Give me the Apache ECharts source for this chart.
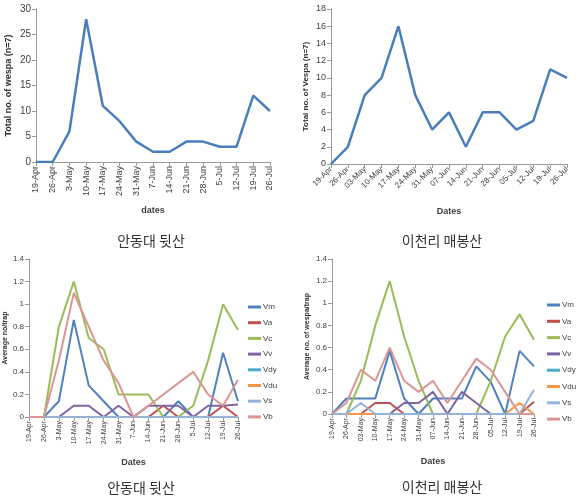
<!DOCTYPE html>
<html>
<head>
<meta charset="utf-8">
<script src="https://cdn.jsdelivr.net/npm/echarts@6/dist/echarts.min.js"></script>
<style>html,body{margin:0;padding:0;background:#fff}#c{width:584px;height:498px}</style>
</head>
<body>
<div id="c"></div>
<script>
// ---- data ----
const datesA = ['19-Apr','26-Apr','3-May','10-May','17-May','24-May','31-May','7-Jun','14-Jun','21-Jun','28-Jun','5-Jul','12-Jul','19-Jul','26-Jul'];
const datesB = ['19-Apr','26-Apr','03-May','10-May','17-May','24-May','31-May','07-Jun','14-Jun','21-Jun','28-Jun','05-Jul','12-Jul','19-Jul','26-Jul'];
const totalA = [0,0,6,28,11,8,4,2,2,4,4,3,3,13,10];
const totalB = [0,2,8,10,16,8,4,6,2,6,6,4,5,11,10];
const speciesNames = ['Vm','Va','Vc','Vv','Vdy','Vdu','Vs','Vb'];
// Andong (bottom-left)
const andVm  = [0,0,0.14,0.86,0.28,0.14,0,0,0,0,0.14,0,0,0.57,0.14];
const andVa  = [0,0,0,0,0,0,0,0,0,0.1,0,0,0,0.1,0];
const andVc  = [0,0,0.8,1.2,0.7,0.6,0.2,0.2,0.2,0,0,0.1,0.5,1.0,0.77];
const andVv  = [0,0,0,0.1,0.1,0,0.1,0,0.1,0.1,0.1,0,0.1,0.1,0.11];
const andVdy = [0,0,0,0,0,0,0,0,0,0,0,0,0,0,0];
const andVdu = [0,0,0,0,0,0,0,0,0,0,0,0,0,0,0];
const andVs  = [0,0,0,0,0,0,0,0,0,0,0,0,0,0,0];
const andVb  = [0,0,0.5,1.1,0.8,0.5,0.3,0,0.1,0.2,0.3,0.4,0.2,0.1,0.33];
// Icheon (bottom-right)
const iceVm  = [0,0.14,0.14,0.14,0.57,0.14,0,0.14,0.14,0.14,0.43,0.29,0,0.57,0.43];
const iceVa  = [0,0,0,0.1,0.1,0,0,0,0,0,0,0,0,0,0.11];
const iceVc  = [0,0,0.3,0.8,1.2,0.7,0.3,0,0,0,0,0.3,0.7,0.9,0.67];
const iceVv  = [0,0,0,0,0,0.1,0.1,0.2,0,0.2,0.1,0,0,0,0];
const iceVdy = [0,0,0,0,0,0,0,0,0,0,0,0,0,0,0];
const iceVdu = [0,0,0,0,0,0,0,0,0,0,0,0,0,0.1,0];
const iceVs  = [0,0,0.1,0,0,0,0,0,0,0,0,0,0,0,0.22];
const iceVb  = [0,0.1,0.4,0.3,0.6,0.3,0.2,0.3,0.1,0.3,0.5,0.4,0.2,0,0];
const colors = ['#4F81BD','#C0504D','#9BBB59','#8064A2','#4BACC6','#F79646','#95B3D7','#D99694'];
const captions = ['안동대 뒷산','이천리 매봉산'];

const andData = [andVm,andVa,andVc,andVv,andVdy,andVdu,andVs,andVb];
const iceData = [iceVm,iceVa,iceVc,iceVv,iceVdy,iceVdu,iceVs,iceVb];

const axisLine = {lineStyle:{color:'#9a9a9a',width:1}};
const tick = {show:true,length:4,lineStyle:{color:'#9a9a9a'}};
const fontF = 'Arial, "Liberation Sans", sans-serif';

function xAx(grid, data, rotate, fs, name, gap){
  return {type:'category',gridIndex:grid,data:data,boundaryGap:false,
    axisLine:axisLine,axisTick:Object.assign({alignWithLabel:true},tick),
    axisLabel:{rotate:rotate,fontSize:fs,color:'#404040',fontFamily:fontF,margin:4,interval:0},
    name:name,nameLocation:'middle',nameGap:gap,
    nameTextStyle:{fontSize:9,fontWeight:'bold',color:'#404040',fontFamily:fontF}};
}
function yAx(grid, max, interval, fs, name, gap, nfs){
  return {type:'value',gridIndex:grid,min:0,max:max,interval:interval,
    axisLine:Object.assign({show:true},axisLine),axisTick:tick,splitLine:{show:false},
    axisLabel:{fontSize:fs,color:'#404040',fontFamily:fontF,margin:5},
    name:name,nameLocation:'middle',nameGap:gap,
    nameTextStyle:{fontSize:nfs,fontWeight:'bold',color:'#303030',fontFamily:fontF}};
}

const series = [
  {type:'line',xAxisIndex:0,yAxisIndex:0,data:totalA,showSymbol:false,lineStyle:{color:'#4A7EBB',width:2.5},itemStyle:{color:'#4A7EBB'}},
  {type:'line',xAxisIndex:1,yAxisIndex:1,data:totalB,showSymbol:false,lineStyle:{color:'#4A7EBB',width:2.5},itemStyle:{color:'#4A7EBB'}}
];
speciesNames.forEach((n,i)=>{
  series.push({name:n,type:'line',xAxisIndex:2,yAxisIndex:2,data:andData[i],showSymbol:false,
    lineStyle:{color:colors[i],width:2},itemStyle:{color:colors[i]}});
});
speciesNames.forEach((n,i)=>{
  series.push({name:n,type:'line',xAxisIndex:3,yAxisIndex:3,data:iceData[i],showSymbol:false,
    lineStyle:{color:colors[i],width:2},itemStyle:{color:colors[i]}});
});

const legendBase = {orient:'vertical',data:speciesNames,icon:'rect',itemWidth:13,itemHeight:3,
  textStyle:{fontSize:8,color:'#404040',fontFamily:fontF,padding:[0,0,0,-3]},selectedMode:false,padding:0};

const chart = echarts.init(document.getElementById('c'),null,{renderer:'canvas'});
chart.setOption({
  animation:false,
  backgroundColor:'#ffffff',
  color:colors,
  grid:[
    {left:36,top:9,width:234,height:153},
    {left:331,top:9,width:236,height:155},
    {left:29,top:259,width:209,height:158},
    {left:332,top:259,width:202,height:155}
  ],
  xAxis:[
    xAx(0,datesA,90,9,'dates',44),
    xAx(1,datesB,45,8,'Dates',43),
    xAx(2,datesA,90,7,'Dates',41),
    xAx(3,datesB,90,7,'Dates',43)
  ],
  yAxis:[
    yAx(0,30,5,10,'Total no. of wespa (n=7)',23,9),
    yAx(1,18,2,9,'Total no. of Vespa (n=7)',21,8),
    yAx(2,1.4,0.2,8,'Average no/trap',20,7),
    yAx(3,1.4,0.2,8,'Average no. of wespa/trap',21,7)
  ],
  legend:[
    Object.assign({left:248,top:303,itemGap:7.7},legendBase),
    Object.assign({left:547,top:301,itemGap:8.3},legendBase)
  ],
  title:[
    {text:captions[0],left:146,top:229,textAlign:'center',textStyle:{fontSize:14,fontWeight:'normal',color:'#333',fontFamily:'"Noto Sans CJK KR"'}},
    {text:captions[1],left:437,top:229,textAlign:'center',textStyle:{fontSize:14,fontWeight:'normal',color:'#333',fontFamily:'"Noto Sans CJK KR"'}},
    {text:captions[0],left:136,top:476,textAlign:'center',textStyle:{fontSize:14,fontWeight:'normal',color:'#333',fontFamily:'"Noto Sans CJK KR"'}},
    {text:captions[1],left:437,top:475,textAlign:'center',textStyle:{fontSize:14,fontWeight:'normal',color:'#333',fontFamily:'"Noto Sans CJK KR"'}}
  ],
  series:series
});
</script>
</body>
</html>
